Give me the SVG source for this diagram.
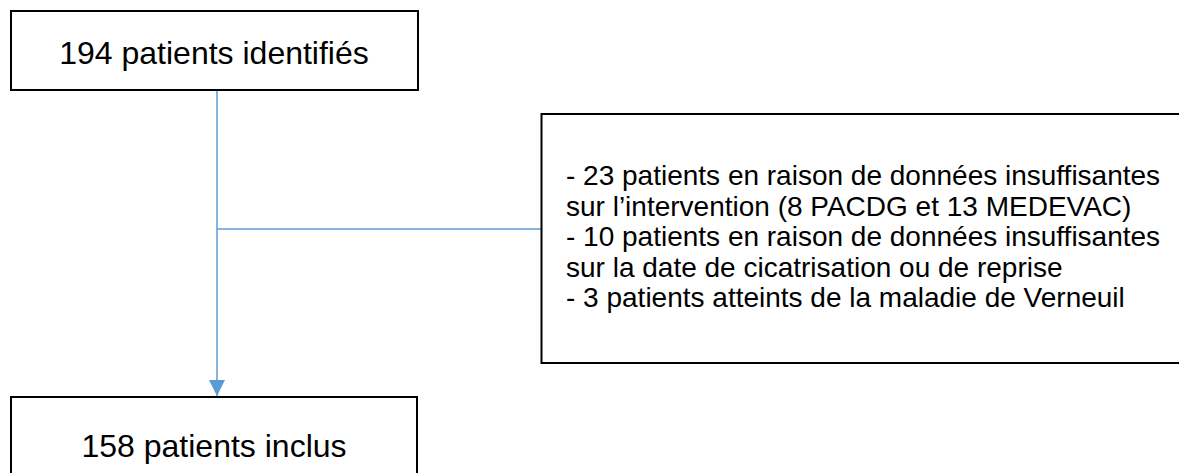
<svg xmlns="http://www.w3.org/2000/svg" width="1179" height="473" viewBox="0 0 1179 473">
<style>
.box{fill:#ffffff;stroke:#000000;stroke-width:2}
.t{font-family:"Liberation Sans",Arial,sans-serif;fill:#000000}
.big{font-size:32px;text-anchor:middle}
.small{font-size:28px}
.conn{fill:none;stroke:#5B9BD5;stroke-width:1.5}
</style>
<defs>
<marker id="arr" markerUnits="userSpaceOnUse" markerWidth="16" markerHeight="16" refX="16" refY="8" orient="auto">
<path d="M0,0 L16,8 L0,16 Z" fill="#5B9BD5"/>
</marker>
</defs>
<rect width="1179" height="473" fill="#ffffff"/>
<g id="connectors">
<line class="conn" x1="217" y1="90" x2="217" y2="396" marker-end="url(#arr)"/>
<line class="conn" x1="217" y1="229" x2="541" y2="229"/>
</g>
<g id="node-identified">
<rect class="box" x="11" y="11" width="407" height="79"/>
<text class="t big" x="214" y="64">194 patients identifiés</text>
</g>
<g id="node-excluded">
<rect class="box" x="541.5" y="114" width="660" height="249"/>
<text class="t small" x="566">
<tspan x="566" y="185">- 23 patients en raison de données insuffisantes</tspan>
<tspan x="566" y="215.5">sur l’intervention (8 PACDG et 13 MEDEVAC)</tspan>
<tspan x="566" y="246">- 10 patients en raison de données insuffisantes</tspan>
<tspan x="566" y="276.5">sur la date de cicatrisation ou de reprise</tspan>
<tspan x="566" y="307">- 3 patients atteints de la maladie de Verneuil</tspan>
</text>
</g>
<g id="node-included">
<rect class="box" x="11" y="397" width="406" height="120"/>
<text class="t big" x="214" y="457">158 patients inclus</text>
</g>
</svg>
